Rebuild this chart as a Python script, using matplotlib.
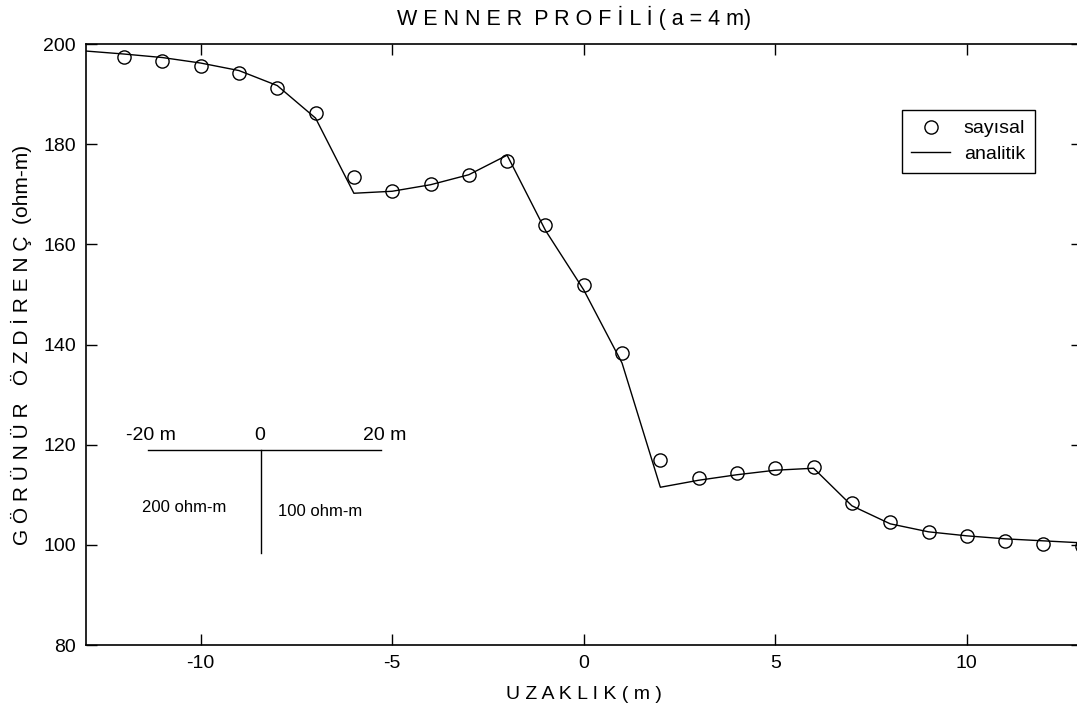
import matplotlib
matplotlib.use("Agg")
import matplotlib.pyplot as plt

plt.rcParams['font.family'] = ['Liberation Sans', 'DejaVu Sans']
plt.rcParams['axes.unicode_minus'] = False

# numerical (sayisal) values at the measurement stations
x_num = list(range(-12, 14))
rho_num = [197.4, 196.6, 195.6, 194.3, 191.3, 186.2, 173.5, 170.7, 172.0, 173.9,
           176.7, 163.9, 151.8, 138.4, 116.9, 113.3, 114.3, 115.3, 115.6, 108.3,
           104.6, 102.6, 101.8, 100.8, 100.2, 99.8]

# analytic (analitik) curve
x_an = list(range(-13, 14))
rho_an = [198.6, 198.0, 197.3, 196.2, 194.7, 191.7, 185.2, 170.2, 170.6, 171.9,
          173.9, 177.8, 162.8, 150.9, 136.3, 111.5, 112.9, 114.0, 114.9, 115.3,
          107.8, 104.2, 102.6, 101.8, 101.2, 100.8, 100.4]

# model sketch: contact between 200 and 100 ohm-m blocks
sketch_x = [-11.38, -5.28]
sketch_y = 118.9
contact_x = -8.43
contact_y = [118.9, 98.3]

fig = plt.figure(figsize=(10.77, 7.11), dpi=100)
ax = fig.add_axes([0.0796, 0.0928, 0.9248, 0.8453])

ax.plot(x_num, rho_num, linestyle='none', marker='o', markersize=9.5,
        markerfacecolor='none', markeredgecolor='black', markeredgewidth=1.0,
        label='sayısal')
ax.plot(x_an, rho_an, color='black', linewidth=1.0, label='analitik')

# sketch of the vertical contact
ax.plot(sketch_x, [sketch_y, sketch_y], color='black', linewidth=1.0)
ax.plot([contact_x, contact_x], contact_y, color='black', linewidth=1.0)
ax.text(-11.3, 121.9, '-20 m', fontsize=14, ha='center', va='center')
ax.text(-8.45, 121.9, '0', fontsize=14, ha='center', va='center')
ax.text(-5.19, 121.9, '20 m', fontsize=14, ha='center', va='center')
ax.text(-10.44, 107.4, '200 ohm-m', fontsize=12, ha='center', va='center')
ax.text(-6.87, 106.6, '100 ohm-m', fontsize=12, ha='center', va='center')

ax.set_xlim(-13, 13)
ax.set_ylim(80, 200)
ax.set_xticks([-10, -5, 0, 5, 10])
ax.set_yticks([80, 100, 120, 140, 160, 180, 200])
ax.tick_params(direction='in', length=8, width=1.0, labelsize=14, pad=7,
               top=True, right=True)
for s in ax.spines.values():
    s.set_linewidth(1.2)

ax.set_title('W E N N E R  P R O F İ L İ ( a = 4 m)', fontsize=15.5, x=0.49, pad=14)
ax.set_xlabel('U Z A K L I K ( m )', fontsize=14, labelpad=10)
ax.set_ylabel('G Ö R Ü N Ü R   Ö Z D İ R E N Ç  (ohm-m)', fontsize=15, labelpad=8)

leg = ax.legend(loc='upper right', bbox_to_anchor=(0.953, 0.890), borderaxespad=0,
                fontsize=14, fancybox=False, framealpha=1, edgecolor='black',
                handlelength=2.0, borderpad=0.5, labelspacing=0.4, handletextpad=0.7)
leg.get_frame().set_linewidth(1.0)

fig.savefig('out.png', dpi=100)
